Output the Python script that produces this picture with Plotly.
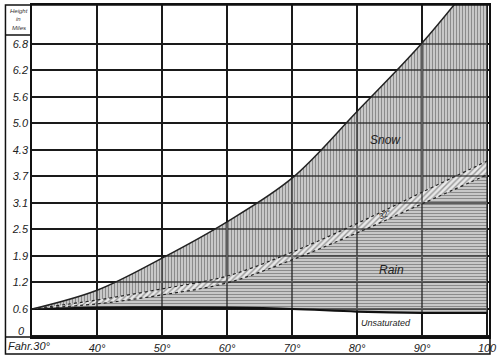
import plotly.graph_objects as go

# Data (temperature in deg F, height in miles)
temps = [30, 40, 50, 60, 70, 80, 90, 100]
snow_upper = [0.62, 1.06, 1.81, 2.66, 3.68, 5.24, 6.84, 8.70]
band_upper = [0.62, 0.83, 1.09, 1.39, 1.95, 2.62, 3.35, 4.08]
band_lower = [0.62, 0.74, 0.95, 1.23, 1.77, 2.40, 3.08, 3.76]
unsat_line = [0.62, 0.65, 0.66, 0.65, 0.62, 0.56, 0.53, 0.53]

y_step = 0.62
y_tick_labels = ["", "0.6", "1.2", "1.9", "2.5", "3.1", "3.7", "4.3", "5.0", "5.6", "6.2", "6.8"]
x_ticks = [30, 40, 50, 60, 70, 80, 90, 100]
x_tick_labels = ["", "40°", "50°", "60°", "70°", "80°", "90°", "100"]
header_words = ["Height", "in", "Miles"]

W, H = 500, 362
ml, mr, mt, mb = 32, 3, 5, 25
pw = W - ml - mr
ph = H - mt - mb

ifont = dict(family="Liberation Sans", size=11, color="#222", style="italic")

fig = go.Figure()
fig.add_trace(go.Scatter(x=temps, y=unsat_line, mode="lines", line=dict(color="#111", width=2.2, shape="spline"),
                         hoverinfo="skip", showlegend=False))
fig.add_trace(go.Scatter(x=temps, y=band_lower, mode="lines", fill="tonexty",
                         line=dict(color="#222", width=1.2, dash="dot", shape="spline"),
                         fillpattern=dict(shape="-", size=3, solidity=0.45, fgcolor="rgba(40,40,40,0.85)",
                                          bgcolor="rgba(170,170,170,0.5)"),
                         hoverinfo="skip", showlegend=False))
fig.add_trace(go.Scatter(x=temps, y=band_upper, mode="lines", fill="tonexty",
                         line=dict(color="#222", width=1.2, dash="dot", shape="spline"),
                         fillpattern=dict(shape="/", size=4, solidity=0.35, fgcolor="rgba(40,40,40,0.85)",
                                          bgcolor="rgba(210,210,210,0.5)"),
                         hoverinfo="skip", showlegend=False))
fig.add_trace(go.Scatter(x=temps, y=snow_upper, mode="lines", fill="tonexty",
                         line=dict(color="#222", width=1.5, shape="spline"),
                         fillpattern=dict(shape="|", size=3, solidity=0.45, fgcolor="rgba(40,40,40,0.85)",
                                          bgcolor="rgba(170,170,170,0.5)"),
                         hoverinfo="skip", showlegend=False))

y_tickvals = [i * y_step for i in range(len(y_tick_labels))]

fig.update_xaxes(range=[30, 100.3], tickvals=x_ticks, ticktext=x_tick_labels, showgrid=True,
                 gridcolor="#1a1a1a", gridwidth=1.5, zeroline=False, showline=True, linecolor="#111",
                 linewidth=1.5, ticks="", tickfont=ifont, mirror=True, ticklabeloverflow="allow")
fig.update_yaxes(range=[-0.035, 7.73], tickvals=y_tickvals, ticktext=y_tick_labels, showgrid=True,
                 gridcolor="#1a1a1a", gridwidth=1.8, zeroline=False, showline=True, linecolor="#111",
                 linewidth=1.5, ticks="", tickfont=ifont, mirror=True)

# frame shapes in paper coords
def px_x(px):
    return (px - ml) / pw

def px_y(py):
    return (H - mb - py) / ph

frame = dict(color="#111", width=1.5)
fig.add_shape(type="rect", xref="paper", yref="paper", x0=px_x(5), x1=px_x(498), y0=px_y(354), y1=px_y(5), line=frame)
fig.add_shape(type="line", xref="paper", yref="paper", x0=px_x(5), x1=px_x(498), y0=0, y1=0, line=frame)
fig.add_shape(type="line", xref="paper", yref="paper", x0=px_x(5), x1=0, y0=px_y(35), y1=px_y(35), line=frame)

for word, py in zip(header_words, [11, 19, 28]):
    fig.add_annotation(xref="paper", yref="paper", x=px_x(18.5), y=px_y(py), xanchor="center", yanchor="middle",
                       text=word, showarrow=False,
                       font=dict(family="Liberation Sans", size=6, color="#333", style="italic"))
fig.add_annotation(xref="paper", yref="paper", x=px_x(27), y=px_y(331), xanchor="right", yanchor="middle",
                   text="0", showarrow=False, font=ifont)
fig.add_annotation(xref="paper", yref="paper", x=px_x(6), y=px_y(346), xanchor="left", yanchor="middle",
                   text="Fahr.30°", showarrow=False, font=ifont)

fig.add_annotation(x=84.4, y=4.57, text="Snow", showarrow=False,
                   font=dict(family="Liberation Sans", size=12, color="#222", style="italic"))
fig.add_annotation(x=85.3, y=1.53, text="Rain", showarrow=False,
                   font=dict(family="Liberation Sans", size=12, color="#222", style="italic"))
fig.add_annotation(x=84.4, y=0.29, text="Unsaturated", showarrow=False,
                   font=dict(family="Liberation Sans", size=9, color="#222", style="italic"))
fig.add_annotation(x=84.4, y=2.82, text="32°", showarrow=False, textangle=-25,
                   font=dict(family="Liberation Sans", size=8, color="#222", style="italic"))

fig.update_layout(width=W, height=H, margin=dict(l=ml, r=mr, t=mt, b=mb),
                  paper_bgcolor="white", plot_bgcolor="white")

fig.write_html("out.html", config={"displayModeBar": False},
               post_script="document.body.style.margin='0';document.body.style.overflow='hidden';")
